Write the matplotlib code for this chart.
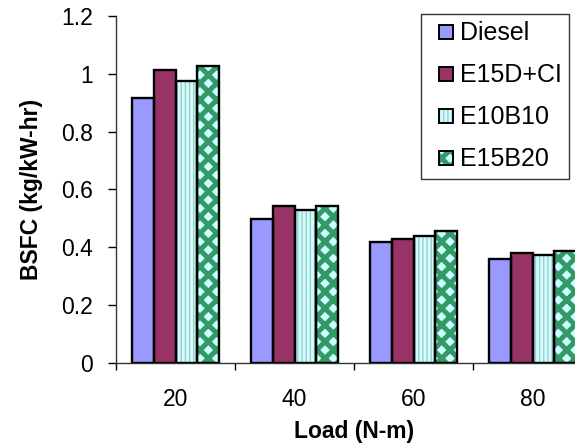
import matplotlib
matplotlib.use('Agg')
import matplotlib.pyplot as plt
from matplotlib.legend_handler import HandlerBase
from matplotlib.patches import Rectangle
import numpy as np

plt.rcParams['font.family'] = ['Liberation Sans', 'DejaVu Sans']

loads = ['20', '40', '60', '80']
series = ['Diesel', 'E15D+CI', 'E10B10', 'E15B20']
diesel = [0.915, 0.498, 0.418, 0.360]
e15d_ci = [1.013, 0.544, 0.430, 0.380]
e10b10 = [0.975, 0.529, 0.439, 0.373]
e15b20 = [1.028, 0.544, 0.456, 0.387]

values = [diesel, e15d_ci, e10b10, e15b20]
# face colour, hatch, hatch colour, hatch linewidth
styles = [
    ('#9999FF', None, '#9999FF', 1.0),
    ('#993366', None, '#993366', 1.0),
    ('#CCFFFF', '||||', '#A8C8C8', 1.0),
    ('#CCFFFF', 'xx', '#339966', 3.6),
]


class SquareHandler(HandlerBase):
    # small square drawn at the right end of the handle box
    def create_artists(self, legend, orig_handle, xdescent, ydescent,
                       width, height, fontsize, trans):
        fill, edge, lw = orig_handle
        s = 10.0
        x0 = width - xdescent - s
        y0 = -ydescent + (height - s) / 2
        # hatch linewidth is taken from rcParams when the patch is made
        with plt.rc_context({'hatch.linewidth': lw}):
            r1 = Rectangle((x0, y0), s, s, facecolor=fill.get_facecolor(),
                           edgecolor=fill.get_edgecolor(), hatch=fill.get_hatch(),
                           linewidth=0, transform=trans)
        r2 = Rectangle((x0, y0), s, s, fill=False, edgecolor='black',
                       linewidth=1.4, transform=trans)
        return [r1, r2]


fig = plt.figure(figsize=(5.75, 4.44), dpi=100)
ax = fig.add_axes([116 / 575, 1 - 363 / 444, 476 / 575, 347 / 444])

x = np.arange(len(loads))
w = 0.183
handles = []
for i, (vals, (fc, hatch, hc, hlw)) in enumerate(zip(values, styles)):
    pos = x + (i - 1.5) * w
    with plt.rc_context({'hatch.linewidth': hlw}):
        fill = ax.bar(pos, vals, w, color=fc, edgecolor=hc, hatch=hatch, linewidth=0, zorder=2)
    edge = ax.bar(pos, vals, w, fill=False, edgecolor='black', linewidth=1.7, zorder=3)
    handles.append((fill[0], edge[0], hlw))

ax.set_xlim(-0.5, 3.5)
ax.set_ylim(0, 1.2)
ax.set_yticks(np.arange(0, 1.21, 0.2))
ax.set_yticklabels(['0', '0.2', '0.4', '0.6', '0.8', '1', '1.2'])
ax.set_xticks(x)
ax.set_xticklabels(loads)
ax.set_xticks(np.arange(-0.5, 3.6, 1), minor=True)
ax.tick_params(axis='x', which='major', length=0, pad=18, labelsize=16.5)
ax.tick_params(axis='x', which='minor', length=5, width=1, direction='out')
ax.tick_params(axis='y', length=5.8, width=1, direction='out', pad=10.5, labelsize=16.5)

for s in ['top', 'right']:
    ax.spines[s].set_visible(False)
for s in ['left', 'bottom']:
    ax.spines[s].set_linewidth(1)
    ax.spines[s].set_color('#333333')

ax.set_xlabel('Load (N-m)', fontsize=16.5, fontweight='bold', labelpad=6.5)
ax.set_ylabel('BSFC (kg/kW-hr)', fontsize=16.5, fontweight='bold', labelpad=13)

leg = fig.legend(handles, series, loc='upper left', bbox_to_anchor=(421 / 575, 1 - 14 / 444),
                 handler_map={tuple: SquareHandler()},
                 fontsize=18, fancybox=False, edgecolor='#333333', framealpha=1,
                 handlelength=0.98, handleheight=0.7, handletextpad=0.28,
                 labelspacing=0.72, borderpad=0.3, borderaxespad=0)
leg.get_frame().set_linewidth(1)

fig.savefig('out.png', dpi=100)
